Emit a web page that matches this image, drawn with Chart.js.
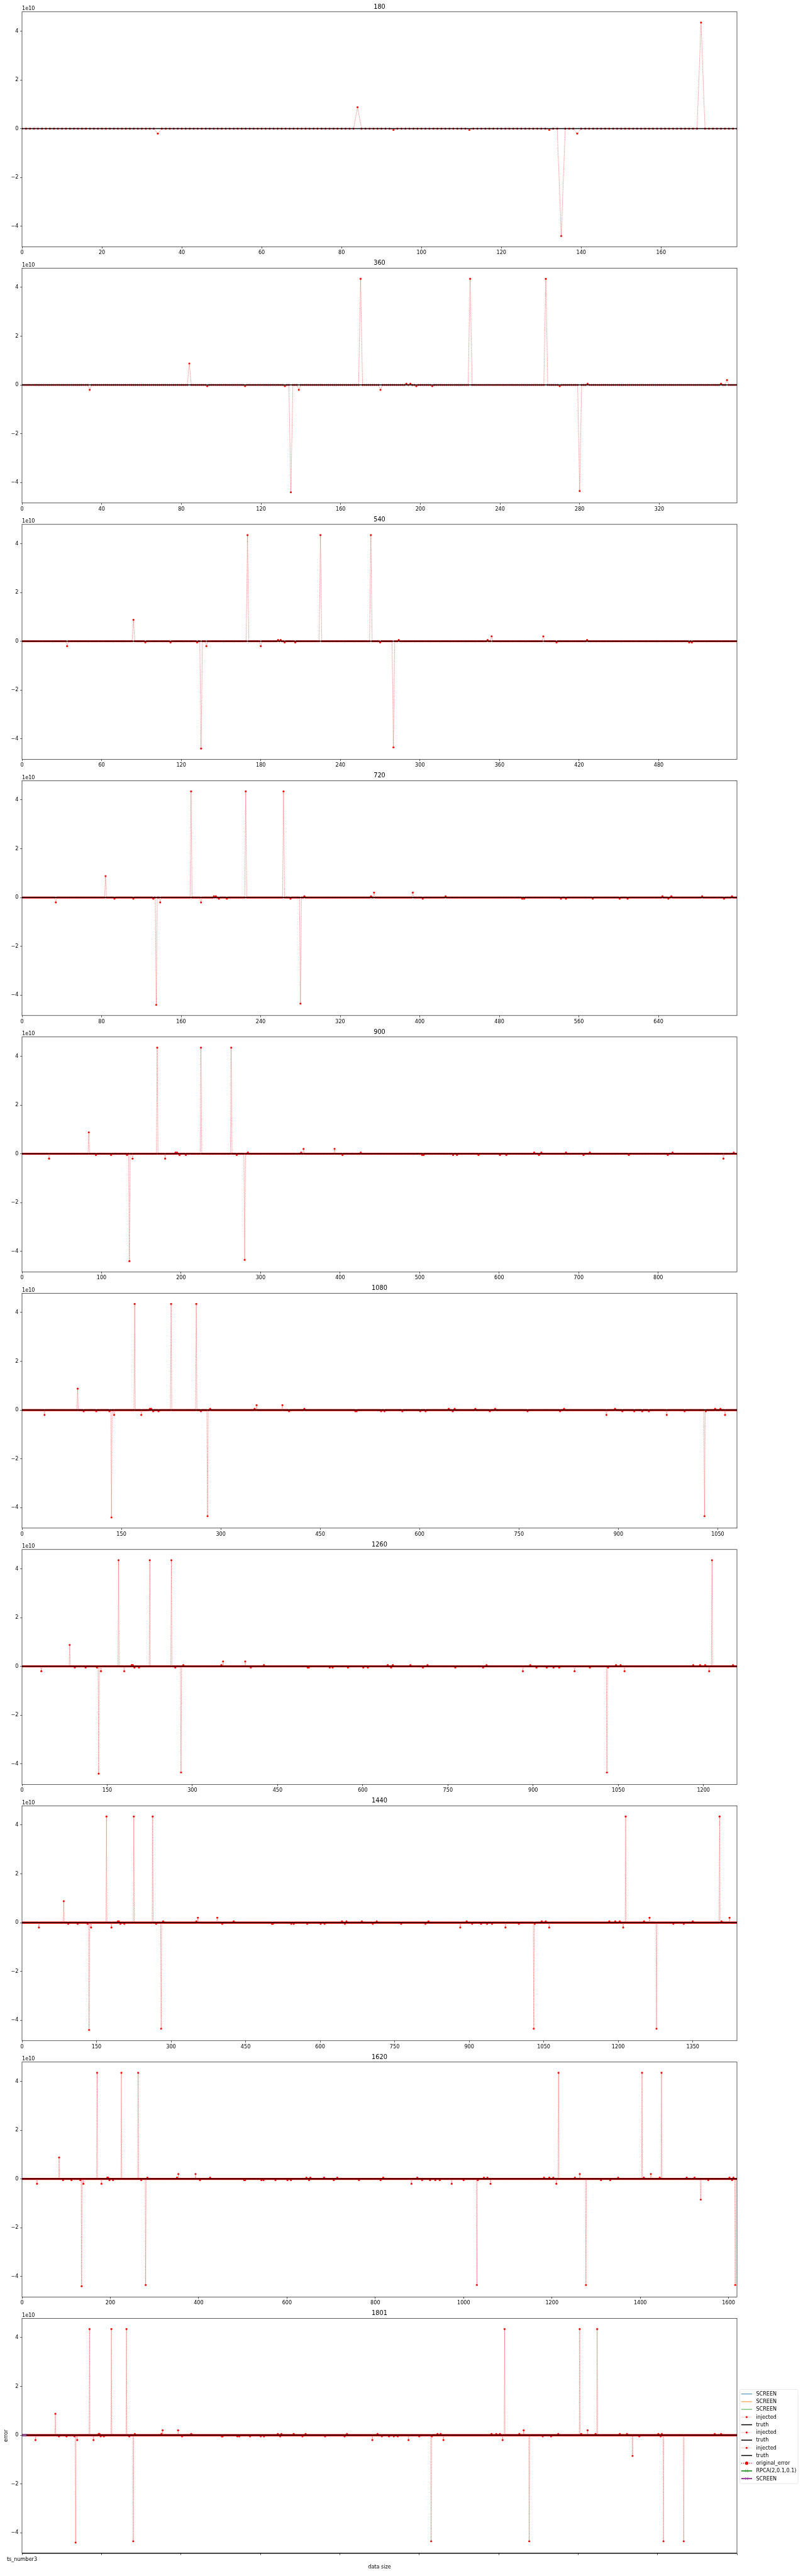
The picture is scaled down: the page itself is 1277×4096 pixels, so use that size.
<!DOCTYPE html>
<html>
<head>
<meta charset="utf-8">
<script src="https://cdn.jsdelivr.net/npm/chart.js@4.4.1/dist/chart.umd.min.js"></script>
<style>
html,body{margin:0;padding:0;background:#fff;}
#wrap{position:relative;width:1277px;height:4096px;overflow:hidden;background:#fff;}
canvas{position:absolute;left:0;}
</style>
</head>
<body>
<div id="wrap"></div>
<script>
// ---------------- DATA ----------------
const dataSizes = [180, 360, 540, 720, 900, 1080, 1260, 1440, 1620, 1801];
const panelTitles = ['180', '360', '540', '720', '900', '1080', '1260', '1440', '1620', '1801'];
const xTicks = [
  [0, 20, 40, 60, 80, 100, 120, 140, 160],
  [0, 40, 80, 120, 160, 200, 240, 280, 320],
  [0, 60, 120, 180, 240, 300, 360, 420, 480],
  [0, 80, 160, 240, 320, 400, 480, 560, 640],
  [0, 100, 200, 300, 400, 500, 600, 700, 800],
  [0, 150, 300, 450, 600, 750, 900, 1050],
  [0, 150, 300, 450, 600, 750, 900, 1050, 1200],
  [0, 150, 300, 450, 600, 750, 900, 1050, 1200, 1350],
  [0, 200, 400, 600, 800, 1000, 1200, 1400, 1600],
  [0, 200, 400, 600, 800, 1000, 1200, 1400, 1600, 1800]
];
const lastTickLabels = ['ts_number3'];
const yTicks = [-4, -2, 0, 2, 4];            // in units of 1e10
const yLimits = [-4.84, 4.79];               // in units of 1e10
// injected error series: index -> value (1e10); all other indices are ~0
const injectedSpikes = [
  [34, -0.2], [84, 0.88], [93, -0.05], [112, -0.05], [132, -0.05], [135, -4.4], [139, -0.2],
  [170, 4.35], [180, -0.2], [193, 0.05], [195, 0.05], [198, -0.05], [206, -0.05], [225, 4.35],
  [263, 4.35], [270, -0.05], [280, -4.35], [284, 0.05], [351, 0.05], [354, 0.2], [393, 0.2],
  [403, -0.05], [426, 0.05], [503, -0.05], [505, -0.05], [542, -0.05], [547, -0.05], [574, -0.05],
  [601, -0.05], [609, -0.05], [644, 0.05], [650, -0.05], [653, 0.05], [684, 0.05], [706, -0.05],
  [714, 0.05], [763, -0.05], [812, -0.05], [818, 0.05], [882, -0.2], [895, 0.05], [906, -0.05],
  [924, -0.05], [936, -0.05], [946, -0.05], [973, -0.2], [1000, -0.05], [1030, -4.35], [1032, -0.05],
  [1046, 0.05], [1054, 0.05], [1061, -0.2], [1182, 0.05], [1194, 0.05], [1203, 0.05], [1210, -0.2],
  [1215, 4.35], [1252, 0.05], [1263, 0.2], [1277, -4.35], [1311, -0.05], [1332, -0.05], [1350, 0.05],
  [1404, 4.35], [1408, 0.05], [1424, 0.2], [1444, 0.05], [1448, 4.35], [1505, 0.05], [1523, 0.05],
  [1537, -0.85], [1554, -0.05], [1602, 0.05], [1608, -0.05], [1611, 0.05], [1615, -4.35],
  [1666, -4.35], [1744, 0.05], [1760, 0.05]
];
const truthLevel = 0;
const methodX = [0, 1, 2, 3, 4, 5, 6, 7, 8, 9];
const rpcaError = [0, 0, 0, 0, 0, 0, 0, 0, 0, 0];
const screenError = [0, 0, 0, 0, 0, 0, 0, 0, 0, 0];
const legendLabels = ['SCREEN', 'SCREEN', 'SCREEN', 'injected', 'truth', 'injected', 'truth',
  'injected', 'truth', 'original_error', 'RPCA(2,0.1,0.1)', 'SCREEN'];
const offsetText = '1e10';
const xLabel = 'data size';
const yLabel = 'error';

// ---------------- LAYOUT ----------------
const FONT = '"DejaVu Sans", sans-serif';
const AX_LEFT = 35.0, AX_RIGHT = 1172.0, AX_H = 373.5, PERIOD = 407.5, TOP0 = 18.8, XAX_H = 16;

const legendStyles = [
  {kind: 'line', color: '#1f77b4', lw: 0.9},
  {kind: 'line', color: '#ff7f0e', lw: 0.9},
  {kind: 'line', color: '#2ca02c', lw: 0.9},
  {kind: 'dot', color: 'red', lw: 0.6, r: 1.5},
  {kind: 'line', color: '#000', lw: 1.5},
  {kind: 'dot', color: 'red', lw: 0.6, r: 1.5},
  {kind: 'line', color: '#000', lw: 1.5},
  {kind: 'dot', color: 'red', lw: 0.6, r: 1.5},
  {kind: 'line', color: '#000', lw: 1.5},
  {kind: 'dot', color: 'red', lw: 1.2, r: 2.7},
  {kind: 'x', color: '#008000', mc: '#3da13d', lw: 1.5},
  {kind: 'x', color: '#800080', mc: '#9a4a9a', lw: 1.5}
];

function drawLegend(ctx, a) {
  const bx0 = a.right + 4.5, bx1 = a.right + 97.1, by0 = a.top + 113.1, by1 = a.top + 262.7, r = 1.8;
  ctx.save();
  ctx.beginPath();
  ctx.moveTo(bx0 + r, by0); ctx.lineTo(bx1 - r, by0); ctx.quadraticCurveTo(bx1, by0, bx1, by0 + r);
  ctx.lineTo(bx1, by1 - r); ctx.quadraticCurveTo(bx1, by1, bx1 - r, by1);
  ctx.lineTo(bx0 + r, by1); ctx.quadraticCurveTo(bx0, by1, bx0, by1 - r);
  ctx.lineTo(bx0, by0 + r); ctx.quadraticCurveTo(bx0, by0, bx0 + r, by0);
  ctx.closePath();
  ctx.fillStyle = 'rgba(255,255,255,0.8)'; ctx.fill();
  ctx.strokeStyle = '#d6d6d6'; ctx.lineWidth = 0.6; ctx.stroke();
  const hx0 = a.right + 6.8, hx1 = a.right + 24.0, tx = a.right + 30.4;
  legendLabels.forEach((lab, i) => {
    const y = a.top + 120.3 + i * 12.23;
    const st = legendStyles[i];
    ctx.save();
    ctx.strokeStyle = st.color; ctx.lineWidth = st.lw;
    if (st.kind === 'dot') ctx.setLineDash([st.lw, st.lw * 1.65]);
    ctx.beginPath(); ctx.moveTo(hx0, y); ctx.lineTo(hx1, y); ctx.stroke();
    ctx.setLineDash([]);
    const cx = (hx0 + hx1) / 2;
    if (st.kind === 'dot') {
      ctx.fillStyle = st.color; ctx.beginPath(); ctx.arc(cx, y, st.r, 0, Math.PI * 2); ctx.fill();
    } else if (st.kind === 'x') {
      ctx.strokeStyle = st.mc; ctx.lineWidth = 0.9; const h = 2.2;
      ctx.beginPath(); ctx.moveTo(cx - h, y - h); ctx.lineTo(cx + h, y + h);
      ctx.moveTo(cx - h, y + h); ctx.lineTo(cx + h, y - h); ctx.stroke();
    }
    ctx.restore();
    ctx.fillStyle = '#000'; ctx.font = '8.1px ' + FONT; ctx.textAlign = 'left'; ctx.textBaseline = 'middle';
    ctx.fillText(lab, tx, y + 0.3);
  });
  ctx.restore();
}

const decor = {
  id: 'decor',
  afterDraw(chart, args, opts) {
    const ctx = chart.ctx, a = chart.chartArea;
    ctx.save();
    ctx.strokeStyle = '#000'; ctx.lineWidth = 0.65;
    ctx.strokeRect(a.left, a.top, a.right - a.left, a.bottom - a.top);
    ctx.fillStyle = '#000';
    ctx.font = '9.75px ' + FONT; ctx.textAlign = 'center'; ctx.textBaseline = 'alphabetic';
    ctx.fillText(opts.title, (a.left + a.right) / 2, a.top - 4.9);
    ctx.font = '8.1px ' + FONT; ctx.textAlign = 'left';
    ctx.fillText(offsetText, a.left, a.top - 2.4);
    if (opts.last) {
      ctx.lineWidth = 1.3;
      ctx.beginPath(); ctx.moveTo(a.left, a.bottom); ctx.lineTo(a.right, a.bottom); ctx.stroke();
      ctx.font = '8.1px ' + FONT; ctx.textAlign = 'center'; ctx.textBaseline = 'middle';
      ctx.fillText(xLabel, (a.left + a.right) / 2, a.bottom + 21.6);
      ctx.save();
      ctx.translate(9.8, (a.top + a.bottom) / 2); ctx.rotate(-Math.PI / 2);
      ctx.fillText(yLabel, 0, 0);
      ctx.restore();
      drawLegend(ctx, a);
    }
    ctx.restore();
  }
};

const spikeMap = new Map(injectedSpikes);
const wrap = document.getElementById('wrap');

dataSizes.forEach((n, k) => {
  const last = k === dataSizes.length - 1;
  const cTop = Math.round(k * PERIOD);
  const H = last ? 4096 - cTop : 410;
  const T = TOP0 + k * PERIOD - cTop;
  const canvas = document.createElement('canvas');
  canvas.width = 1277; canvas.height = H;
  canvas.style.top = cTop + 'px';
  canvas.style.width = '1277px'; canvas.style.height = H + 'px';
  wrap.appendChild(canvas);

  const injected = [], truth = [];
  for (let i = 0; i < n; i++) {
    injected.push({x: i, y: spikeMap.has(i) ? spikeMap.get(i) : 0});
    truth.push({x: i, y: truthLevel});
  }
  const datasets = [
    {label: 'truth', data: truth, borderColor: '#000', borderWidth: 1.5, pointRadius: 0, order: 0},
    {label: 'injected', data: injected, borderColor: 'rgba(255,0,0,0.95)', borderWidth: 0.7,
     borderDash: [0.7, 1.0], pointRadius: 1.55, pointBackgroundColor: 'red', pointBorderWidth: 0, order: 1}
  ];
  if (last) {
    datasets.push({label: 'RPCA(2,0.1,0.1)', data: methodX.map((x, i) => ({x, y: rpcaError[i]})),
      borderColor: '#008000', borderWidth: 1.5, pointStyle: 'crossRot', pointRadius: 2.6,
      pointBorderColor: '#3da13d', pointBorderWidth: 0.9, order: -1});
    datasets.push({label: 'SCREEN', data: methodX.map((x, i) => ({x, y: screenError[i]})),
      borderColor: '#800080', borderWidth: 1.5, pointStyle: 'crossRot', pointRadius: 2.6,
      pointBorderColor: '#9a4a9a', pointBorderWidth: 0.9, order: -2});
  }
  const ticks = xTicks[k];
  new Chart(canvas, {
    type: 'line',
    data: {datasets},
    options: {
      responsive: false, animation: false, events: [], parsing: false, normalized: true,
      layout: {padding: {top: T, left: 0, right: 1277 - AX_RIGHT, bottom: H - T - AX_H - XAX_H}},
      plugins: {legend: {display: false}, tooltip: {enabled: false}, title: {display: false},
        decor: {title: panelTitles[k], last}},
      scales: {
        x: {
          type: 'linear', min: 0, max: last ? 1800 : n - 1,
          afterBuildTicks: (ax) => { ax.ticks = ticks.map(v => ({value: v})); },
          afterFit: (ax) => { ax.height = XAX_H; },
          border: {display: false},
          grid: {drawOnChartArea: false, drawTicks: true, tickLength: 2.9, color: '#000', lineWidth: 0.65},
          ticks: {autoSkip: false, maxRotation: 0, minRotation: 0, padding: 2.2, color: '#000',
            font: {family: FONT, size: 8.1},
            callback: (v, i) => last ? (lastTickLabels[i] || '') : String(v)}
        },
        y: {
          type: 'linear', min: yLimits[0], max: yLimits[1],
          afterBuildTicks: (ax) => { ax.ticks = yTicks.map(v => ({value: v})); },
          afterFit: (ax) => { ax.width = AX_LEFT; },
          border: {display: false},
          grid: {drawOnChartArea: false, drawTicks: true, tickLength: 2.9, color: '#000', lineWidth: 0.65},
          ticks: {padding: 2.6, color: '#000', font: {family: FONT, size: 8.1},
            callback: (v) => v < 0 ? '\u2212' + Math.abs(v) : String(v)}
        }
      }
    },
    plugins: [decor]
  });
});
</script>
</body>
</html>
